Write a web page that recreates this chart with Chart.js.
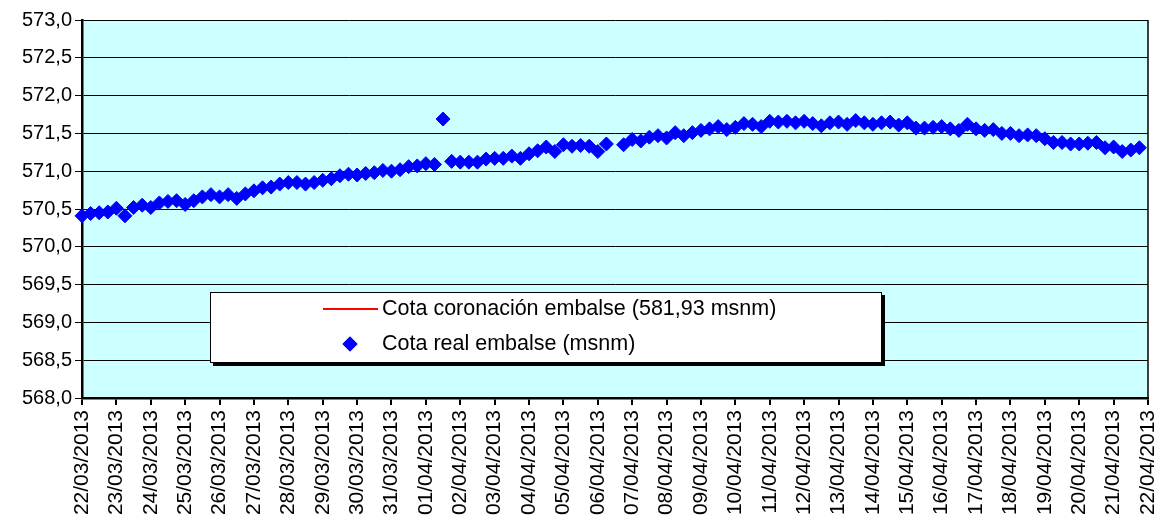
<!DOCTYPE html>
<html>
<head>
<meta charset="utf-8">
<script src="https://cdn.jsdelivr.net/npm/chart.js@4/dist/chart.umd.min.js"></script>
<style>
  html, body { margin: 0; padding: 0; background: #fff; }
  #wrap { width: 1157px; height: 519px; position: relative; }
</style>
</head>
<body>
<div id="wrap"><canvas id="chart-cota"></canvas></div>
<script>
// Fechas del eje X (una marca por día)
const fechas = [
    '22/03/2013', '23/03/2013', '24/03/2013', '25/03/2013', '26/03/2013', '27/03/2013',
    '28/03/2013', '29/03/2013', '30/03/2013', '31/03/2013', '01/04/2013', '02/04/2013',
    '03/04/2013', '04/04/2013', '05/04/2013', '06/04/2013', '07/04/2013', '08/04/2013',
    '09/04/2013', '10/04/2013', '11/04/2013', '12/04/2013', '13/04/2013', '14/04/2013',
    '15/04/2013', '16/04/2013', '17/04/2013', '18/04/2013', '19/04/2013', '20/04/2013',
    '21/04/2013', '22/04/2013'
];

// Lecturas cada 6 horas (msnm); null = sin dato
const cotaReal = [
    570.41, 570.44, 570.45, 570.46, 570.51, 570.41, 570.52, 570.55,
    570.52, 570.58, 570.60, 570.61, 570.56, 570.61, 570.66, 570.69,
    570.66, 570.69, 570.64, 570.70, 570.74, 570.78, 570.79, 570.83,
    570.85, 570.85, 570.83, 570.85, 570.88, 570.90, 570.94, 570.96,
    570.95, 570.97, 570.98, 571.01, 571.00, 571.02, 571.06, 571.07,
    571.10, 571.09, 571.69, 571.13, 571.12, 571.12, 571.12, 571.16,
    571.17, 571.17, 571.20, 571.17, 571.23, 571.27, 571.32, 571.26,
    571.35, 571.33, 571.34, 571.33, 571.26, 571.36, null,   571.35,
    571.42, 571.40, 571.45, 571.47, 571.44, 571.51, 571.47, 571.51,
    571.54, 571.56, 571.59, 571.55, 571.58, 571.63, 571.62, 571.59,
    571.66, 571.65, 571.66, 571.64, 571.66, 571.63, 571.60, 571.64,
    571.65, 571.62, 571.67, 571.64, 571.62, 571.64, 571.65, 571.61,
    571.64, 571.57, 571.57, 571.58, 571.59, 571.56, 571.54, 571.62,
    571.56, 571.54, 571.55, 571.50, 571.50, 571.47, 571.48, 571.47,
    571.43, 571.38, 571.38, 571.36, 571.36, 571.37, 571.38, 571.31,
    571.32, 571.26, 571.28, 571.31
];

const cotaCoronacion = 581.93;   // fuera del rango visible
const PASOS_POR_DIA = 4;

const FONT = "'Liberation Sans', Arial, sans-serif";

// ─── Plugin: fondo del área y borde derecho ─────────────────────────────────
const areaPlugin = {
    id: 'areaPlugin',
    beforeDraw(chart) {
        const { ctx, chartArea: a } = chart;
        ctx.save();
        ctx.fillStyle = '#CCFFFF';
        ctx.fillRect(a.left, a.top, a.right - a.left, a.bottom - a.top);
        ctx.restore();
    },
    afterDatasetsDraw(chart) {
        const { ctx, chartArea: a } = chart;
        ctx.save();
        ctx.strokeStyle = '#000';
        ctx.lineWidth = 1.5;
        ctx.beginPath();
        ctx.moveTo(a.right, a.top);
        ctx.lineTo(a.right, a.bottom);
        ctx.stroke();
        ctx.restore();
    }
};

// ─── Plugin: leyenda dentro del gráfico ─────────────────────────────────────
const legendBoxPlugin = {
    id: 'legendBox',
    afterDraw(chart) {
        const { ctx } = chart;
        const box = { x: 210, y: 292, w: 672, h: 71 };
        const [ds0, ds1] = chart.data.datasets;
        ctx.save();
        ctx.fillStyle = '#000';
        ctx.fillRect(box.x + 3, box.y + 3, box.w, box.h);
        ctx.fillStyle = '#fff';
        ctx.fillRect(box.x, box.y, box.w, box.h);
        ctx.strokeStyle = '#000';
        ctx.lineWidth = 1;
        ctx.strokeRect(box.x + 0.5, box.y + 0.5, box.w - 1, box.h - 1);

        ctx.font = '21.5px ' + FONT;
        ctx.fillStyle = '#000';
        ctx.textBaseline = 'middle';

        // línea roja
        ctx.strokeStyle = ds0.borderColor;
        ctx.lineWidth = 2;
        ctx.beginPath();
        ctx.moveTo(323, 309);
        ctx.lineTo(378, 309);
        ctx.stroke();
        ctx.fillText(ds0.label, 382, 309);

        // rombo azul
        Chart.helpers.drawPoint(ctx, { pointStyle: 'rectRot', radius: 7.5, borderWidth: 0 }, 350, 344);
        ctx.fillStyle = ds1.backgroundColor;
        ctx.fill();
        ctx.fillStyle = '#000';
        ctx.fillText(ds1.label, 382, 344);
        ctx.restore();
    }
};

const puntos = cotaReal
    .map((v, i) => ({ x: i, y: v }))
    .filter(p => p.y !== null);

const ultimo = (fechas.length - 1) * PASOS_POR_DIA;

new Chart(document.getElementById('chart-cota').getContext('2d'), {
    type: 'scatter',
    data: {
        datasets: [
            {
                label: 'Cota coronación embalse (581,93 msnm)',
                data: [{ x: 0, y: cotaCoronacion }, { x: ultimo, y: cotaCoronacion }],
                showLine: true,
                borderColor: '#FF0000',
                backgroundColor: '#FF0000',
                borderWidth: 2,
                pointRadius: 0,
            },
            {
                label: 'Cota real embalse (msnm)',
                data: puntos,
                showLine: false,
                clip: false,
                pointStyle: 'rectRot',
                pointRadius: 7,
                pointHoverRadius: 7,
                borderWidth: 1,
                borderColor: '#0000FF',
                backgroundColor: '#0000FF',
            }
        ]
    },
    options: {
        responsive: true,
        maintainAspectRatio: false,
        animation: false,
        events: [],
        layout: { padding: { top: 20, right: 9, left: 0, bottom: 0 } },
        plugins: {
            legend: { display: false },
            tooltip: { enabled: false },
        },
        scales: {
            x: {
                type: 'linear',
                min: 0,
                max: ultimo,
                afterBuildTicks: scale => {
                    scale.ticks = fechas.map((_, i) => ({ value: i * PASOS_POR_DIA }));
                },
                afterFit: scale => {
                    scale.height = 121;
                    scale.paddingLeft = 0;
                    scale.paddingRight = 0;
                },
                ticks: {
                    autoSkip: false,
                    maxRotation: 90,
                    minRotation: 90,
                    padding: 5,
                    color: '#000',
                    font: { family: FONT, size: 21 },
                    callback: v => fechas[v / PASOS_POR_DIA],
                },
                grid: {
                    drawOnChartArea: false,
                    drawTicks: true,
                    tickLength: 7,
                    color: '#000',
                    lineWidth: 2,
                },
                border: { color: '#000', width: 2.5 },
            },
            y: {
                min: 568,
                max: 573,
                afterFit: scale => {
                    scale.width = 82;
                    scale.paddingTop = 0;
                    scale.paddingBottom = 0;
                },
                ticks: {
                    stepSize: 0.5,
                    padding: 3,
                    color: '#000',
                    font: { family: FONT, size: 20 },
                    callback: v => v.toFixed(1).replace('.', ','),
                },
                grid: {
                    color: '#000',
                    lineWidth: 1,
                    tickLength: 7,
                },
                border: { color: '#000', width: 2.5 },
            }
        }
    },
    plugins: [areaPlugin, legendBoxPlugin]
});
</script>
</body>
</html>
